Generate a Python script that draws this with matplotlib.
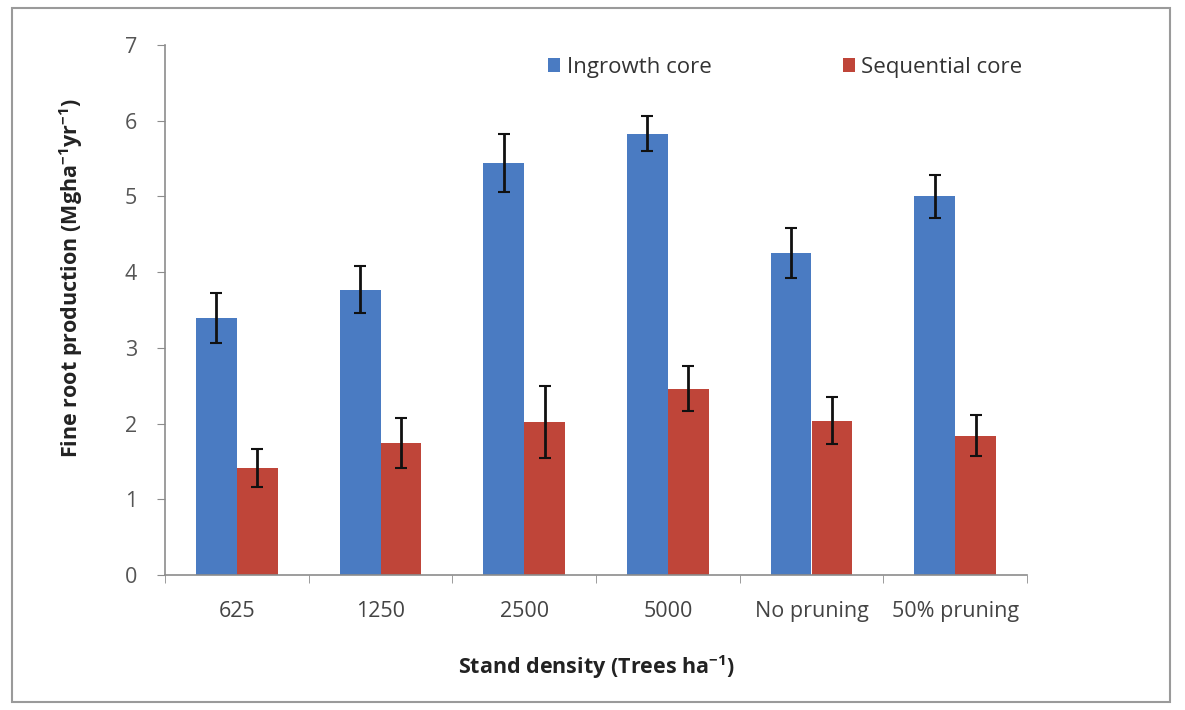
import matplotlib
matplotlib.use('Agg')
import matplotlib.pyplot as plt
import numpy as np
from matplotlib.patches import Rectangle

plt.rcParams['font.family'] = ['Open Sans', 'DejaVu Sans']
plt.rcParams['mathtext.default'] = 'regular'

categories = ['625', '1250', '2500', '5000', 'No pruning', '50% pruning']
ingrowth = [3.40, 3.77, 5.44, 5.83, 4.25, 5.00]
ingrowth_err = [0.33, 0.31, 0.38, 0.23, 0.33, 0.28]
sequential = [1.41, 1.74, 2.02, 2.46, 2.04, 1.84]
sequential_err = [0.25, 0.33, 0.47, 0.30, 0.31, 0.27]

blue = '#4a7bc2'
red = '#bf4539'
grey = '#8c8c8c'

fig = plt.figure(figsize=(11.85, 7.10), dpi=100)
ax = fig.add_axes([165 / 1185, 1 - 575 / 710, (1027 - 165) / 1185, (575 - 45) / 710])

x = np.arange(len(categories))
width = 0.285
err_style = dict(ecolor='#111111', elinewidth=2, capsize=4.5, capthick=1.5)
ax.bar(x - width / 2, ingrowth, width, color=blue, label='Ingrowth core',
       yerr=ingrowth_err, error_kw=err_style)
ax.bar(x + width / 2, sequential, width, color=red, label='Sequential core',
       yerr=sequential_err, error_kw=err_style)

ax.set_xlim(-0.5, len(categories) - 0.5)
ax.set_ylim(0, 7)
ax.set_yticks(range(8))
ax.set_xticks(x)
ax.set_xticklabels(categories)
ax.set_xticks(np.arange(len(categories) + 1) - 0.5, minor=True)
ax.tick_params(axis='x', which='major', length=0, pad=19, labelsize=15.5, labelcolor='#444444')
ax.tick_params(axis='x', which='minor', length=6, color=grey, direction='out')
ax.tick_params(axis='y', length=6, color=grey, direction='out', pad=14,
               labelsize=15.5, labelcolor='#555555')

for side in ['top', 'right']:
    ax.spines[side].set_visible(False)
for side in ['left', 'bottom']:
    ax.spines[side].set_color(grey)
    ax.spines[side].set_linewidth(1.2)

ax.set_ylabel(r'Fine root production (Mgha$^{-1}$yr$^{-1}$)', fontsize=15.5,
              fontweight='bold', color='#222222')
ax.yaxis.set_label_coords(-0.093, 0.56)
ax.set_xlabel(r'Stand density (Trees ha$^{-1}$)', fontsize=15.5,
              fontweight='bold', color='#222222', labelpad=22)

ax.legend(ncol=2, loc='upper right', bbox_to_anchor=(1.018, 1.015), frameon=False,
          fontsize=16, handlelength=0.55, handleheight=0.55, handletextpad=0.3,
          columnspacing=5.9, labelcolor='#333333')

# outer frame round the whole chart
fig.patches.append(Rectangle((12 / 1185, 8 / 710), 1158 / 1185, 694 / 710,
                             transform=fig.transFigure, fill=False,
                             edgecolor='#9a9a9a', linewidth=1.5))

fig.savefig('out.png', dpi=100)
